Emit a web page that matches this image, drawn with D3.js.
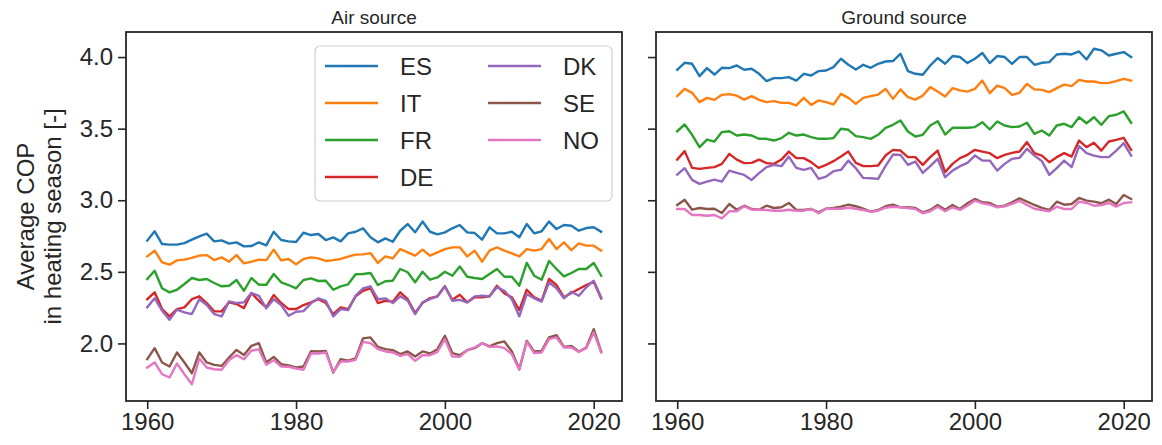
<!DOCTYPE html>
<html>
<head>
<meta charset="utf-8">
<script src="https://cdn.jsdelivr.net/npm/d3@7"></script>
<style>
  html, body { margin: 0; padding: 0; background: #fff; }
  svg { display: block; font-family: "Liberation Sans", Arial, sans-serif; }
</style>
</head>
<body>
<svg id="chart" width="1162" height="445"></svg>
<script>
// Years covered by every series
const years = d3.range(1960, 2022);

const countries = ["ES", "IT", "FR", "DE", "DK", "SE", "NO"];
const colors = ["#1f77b4", "#ff7f0e", "#2ca02c", "#d62728", "#9467bd", "#8c564b", "#e377c2"];

const yTicks = [2.0, 2.5, 3.0, 3.5, 4.0];
const xTicks = [1960, 1980, 2000, 2020];
const panelTitles = ["Air source", "Ground source"];

// Air source heat pumps: average COP in heating season
const airES = [2.718,2.783,2.694,2.690,2.690,2.701,2.725,2.748,2.767,2.713,
  2.720,2.697,2.706,2.678,2.680,2.706,2.685,2.780,2.722,2.713,
  2.708,2.773,2.757,2.764,2.722,2.741,2.713,2.769,2.780,2.804,
  2.741,2.706,2.734,2.710,2.787,2.834,2.776,2.851,2.780,2.762,
  2.776,2.804,2.827,2.776,2.771,2.725,2.811,2.769,2.769,2.780,
  2.741,2.834,2.769,2.783,2.851,2.799,2.827,2.822,2.787,2.806,
  2.811,2.780];
const airIT = [2.608,2.648,2.566,2.550,2.580,2.585,2.597,2.613,2.617,2.582,
  2.601,2.571,2.617,2.559,2.571,2.585,2.582,2.655,2.580,2.590,
  2.552,2.590,2.601,2.594,2.576,2.582,2.590,2.606,2.620,2.622,
  2.631,2.562,2.608,2.594,2.659,2.636,2.613,2.655,2.613,2.636,
  2.659,2.671,2.671,2.608,2.648,2.571,2.648,2.671,2.648,2.629,
  2.608,2.659,2.648,2.659,2.729,2.659,2.706,2.652,2.699,2.683,
  2.683,2.648];
const airFR = [2.450,2.508,2.385,2.357,2.375,2.415,2.457,2.443,2.450,2.422,
  2.399,2.403,2.443,2.368,2.457,2.410,2.410,2.485,2.427,2.408,
  2.385,2.443,2.454,2.436,2.438,2.375,2.399,2.413,2.483,2.485,
  2.492,2.408,2.434,2.438,2.520,2.497,2.427,2.501,2.445,2.461,
  2.501,2.473,2.538,2.466,2.457,2.450,2.485,2.520,2.466,2.466,
  2.403,2.562,2.473,2.445,2.576,2.520,2.468,2.492,2.520,2.520,
  2.562,2.473];
const airDE = [2.309,2.357,2.240,2.189,2.240,2.252,2.309,2.329,2.282,2.224,
  2.224,2.287,2.275,2.247,2.352,2.298,2.252,2.338,2.282,2.240,
  2.240,2.268,2.287,2.309,2.282,2.205,2.252,2.240,2.329,2.368,
  2.385,2.282,2.298,2.292,2.357,2.309,2.212,2.282,2.317,2.329,
  2.399,2.305,2.340,2.287,2.322,2.322,2.329,2.403,2.350,2.322,
  2.233,2.375,2.322,2.298,2.450,2.408,2.322,2.352,2.380,2.408,
  2.431,2.315];
const airDK = [2.252,2.315,2.229,2.165,2.236,2.217,2.205,2.309,2.268,2.205,
  2.189,2.294,2.282,2.287,2.352,2.333,2.245,2.309,2.268,2.193,
  2.221,2.226,2.280,2.315,2.298,2.189,2.240,2.233,2.333,2.385,
  2.399,2.309,2.315,2.282,2.329,2.298,2.205,2.287,2.309,2.329,
  2.399,2.298,2.305,2.287,2.329,2.333,2.329,2.392,2.368,2.309,
  2.189,2.345,2.315,2.292,2.427,2.385,2.315,2.361,2.333,2.392,
  2.438,2.322];
const airSE = [1.890,1.967,1.867,1.839,1.937,1.867,1.792,1.937,1.867,1.850,
  1.843,1.902,1.955,1.920,1.983,2.002,1.867,1.906,1.855,1.846,
  1.832,1.839,1.946,1.944,1.948,1.797,1.890,1.879,1.895,2.035,
  2.042,1.976,1.960,1.953,1.925,1.944,1.909,1.944,1.930,1.960,
  2.053,1.933,1.918,1.953,1.967,2.002,1.979,2.002,2.014,1.944,
  1.820,2.018,1.944,1.948,2.042,2.058,1.976,1.983,1.944,1.972,
  2.100,1.944];
const airNO = [1.832,1.867,1.785,1.762,1.860,1.785,1.715,1.895,1.832,1.820,
  1.816,1.885,1.918,1.890,1.949,1.960,1.851,1.883,1.839,1.837,
  1.825,1.816,1.930,1.930,1.937,1.802,1.874,1.874,1.885,2.011,
  2.002,1.960,1.944,1.937,1.913,1.925,1.878,1.918,1.918,1.941,
  2.030,1.909,1.906,1.953,1.972,2.002,1.976,1.979,1.967,1.925,
  1.816,2.011,1.933,1.937,2.030,2.042,1.972,1.972,1.941,1.967,
  2.077,1.937];

// Ground source heat pumps: average COP in heating season
const groundES = [3.911,3.960,3.953,3.867,3.923,3.878,3.925,3.923,3.941,3.911,
  3.918,3.883,3.832,3.853,3.853,3.860,3.836,3.883,3.871,3.902,
  3.906,3.930,3.988,3.946,3.913,3.946,3.925,3.953,3.969,3.972,
  4.023,3.902,3.883,3.876,3.941,3.993,3.953,4.007,4.000,3.958,
  3.988,4.028,3.958,4.007,4.000,3.953,4.000,4.000,3.946,3.960,
  3.965,4.018,4.023,4.018,4.039,3.983,4.058,4.047,4.011,4.023,
  4.035,4.000];
const groundIT = [3.727,3.778,3.750,3.685,3.715,3.701,3.736,3.741,3.731,3.703,
  3.727,3.701,3.685,3.692,3.680,3.680,3.662,3.715,3.666,3.697,
  3.685,3.669,3.743,3.715,3.673,3.715,3.727,3.738,3.778,3.708,
  3.774,3.720,3.703,3.731,3.790,3.759,3.724,3.783,3.767,3.759,
  3.778,3.836,3.748,3.801,3.783,3.736,3.750,3.813,3.774,3.771,
  3.755,3.783,3.808,3.797,3.841,3.829,3.829,3.818,3.820,3.832,
  3.848,3.836];
const groundFR = [3.482,3.529,3.457,3.371,3.424,3.410,3.476,3.482,3.452,3.459,
  3.452,3.429,3.429,3.417,3.434,3.471,3.452,3.459,3.441,3.429,
  3.429,3.434,3.499,3.492,3.448,3.441,3.429,3.457,3.506,3.527,
  3.557,3.480,3.445,3.457,3.522,3.552,3.459,3.506,3.506,3.506,
  3.511,3.545,3.494,3.550,3.522,3.511,3.515,3.541,3.464,3.487,
  3.452,3.522,3.534,3.511,3.580,3.538,3.580,3.527,3.587,3.597,
  3.620,3.541];
const groundDE = [3.284,3.343,3.226,3.219,3.226,3.231,3.254,3.324,3.284,3.259,
  3.261,3.284,3.259,3.254,3.284,3.340,3.294,3.294,3.266,3.226,
  3.247,3.273,3.305,3.340,3.261,3.238,3.238,3.243,3.312,3.352,
  3.347,3.301,3.301,3.247,3.301,3.347,3.196,3.254,3.294,3.317,
  3.352,3.340,3.329,3.294,3.317,3.331,3.340,3.406,3.329,3.312,
  3.266,3.301,3.329,3.305,3.417,3.371,3.401,3.347,3.410,3.422,
  3.436,3.352];
const groundDK = [3.179,3.224,3.142,3.114,3.130,3.144,3.130,3.207,3.191,3.177,
  3.142,3.189,3.231,3.247,3.238,3.305,3.226,3.212,3.226,3.149,
  3.165,3.203,3.212,3.277,3.224,3.156,3.154,3.149,3.240,3.319,
  3.317,3.247,3.270,3.191,3.238,3.289,3.161,3.207,3.238,3.261,
  3.312,3.277,3.277,3.207,3.254,3.289,3.296,3.359,3.312,3.273,
  3.177,3.224,3.277,3.231,3.378,3.329,3.312,3.301,3.301,3.347,
  3.399,3.312];
const groundSE = [2.967,3.004,2.934,2.946,2.939,2.941,2.911,2.974,2.934,2.962,
  2.939,2.934,2.962,2.946,2.951,2.981,2.932,2.932,2.939,2.916,
  2.941,2.946,2.955,2.969,2.958,2.941,2.920,2.932,2.958,2.969,
  2.951,2.951,2.946,2.916,2.932,2.967,2.934,2.967,2.939,2.979,
  3.009,2.986,2.981,2.955,2.962,2.986,3.014,2.990,2.967,2.946,
  2.932,2.990,2.969,2.974,3.016,2.997,2.990,2.979,3.004,2.974,
  3.037,3.009];
const groundNO = [2.939,2.939,2.897,2.897,2.892,2.897,2.874,2.923,2.923,2.958,
  2.934,2.934,2.932,2.927,2.927,2.934,2.927,2.927,2.939,2.909,
  2.941,2.941,2.941,2.948,2.941,2.932,2.920,2.927,2.948,2.955,
  2.951,2.946,2.939,2.909,2.923,2.955,2.923,2.951,2.932,2.962,
  2.997,2.979,2.969,2.951,2.958,2.974,2.997,2.967,2.941,2.932,
  2.923,2.955,2.939,2.939,2.990,2.981,2.962,2.967,2.981,2.955,
  2.981,2.986];

const panels = [
  { title: panelTitles[0], series: [airES, airIT, airFR, airDE, airDK, airSE, airNO] },
  { title: panelTitles[1], series: [groundES, groundIT, groundFR, groundDE, groundDK, groundSE, groundNO] }
];

// ---- layout ----
const ink = "#262626";
const plotTop = 32, plotBottom = 401;
const panelX = [[126, 622], [656, 1152]];

const y = d3.scaleLinear().domain([1.598, 4.175]).range([plotBottom, plotTop]);

const svg = d3.select("#chart");

panels.forEach((p, i) => {
  const [x0, x1] = panelX[i];
  const x = d3.scaleLinear().domain([1957.15, 2023.8]).range([x0, x1]);
  const g = svg.append("g");

  // lines
  const line = d3.line().x((d, k) => x(years[k])).y(d => y(d));
  p.series.forEach((vals, s) => {
    g.append("path")
      .datum(vals)
      .attr("d", line)
      .attr("fill", "none")
      .attr("stroke", colors[s])
      .attr("stroke-width", 2.4)
      .attr("stroke-linejoin", "round")
      .attr("stroke-linecap", "square");
  });

  // x axis
  const xAxis = d3.axisBottom(x).tickValues(xTicks).tickFormat(d3.format("d"))
    .tickSize(8).tickPadding(4);
  const gx = g.append("g").attr("transform", `translate(0,${plotBottom})`).call(xAxis);
  gx.select(".domain").remove();
  gx.selectAll(".tick line").attr("stroke", ink).attr("stroke-width", 1.6);
  gx.selectAll(".tick text").attr("fill", ink).style("font-size", "24px")
    .style("font-family", "'Liberation Sans', Arial, sans-serif");

  // y axis
  const yAxis = d3.axisLeft(y).tickValues(yTicks).tickSize(8).tickPadding(5)
    .tickFormat(i === 0 ? d3.format(".1f") : () => "");
  const gy = g.append("g").attr("transform", `translate(${x0},0)`).call(yAxis);
  gy.select(".domain").remove();
  gy.selectAll(".tick line").attr("stroke", ink).attr("stroke-width", 1.6);
  gy.selectAll(".tick text").attr("fill", ink).style("font-size", "24px")
    .style("font-family", "'Liberation Sans', Arial, sans-serif");

  // frame
  g.append("rect")
    .attr("x", x0).attr("y", plotTop)
    .attr("width", x1 - x0).attr("height", plotBottom - plotTop)
    .attr("fill", "none").attr("stroke", ink).attr("stroke-width", 1.8);

  // title
  g.append("text")
    .attr("x", (x0 + x1) / 2).attr("y", 24)
    .attr("text-anchor", "middle")
    .attr("fill", ink)
    .style("font-size", "19px")
    .text(p.title);
});

// y-axis label (two lines)
const yl = svg.append("text")
  .attr("transform", `translate(0,${(plotTop + plotBottom) / 2}) rotate(-90)`)
  .attr("text-anchor", "middle")
  .attr("fill", ink)
  .style("font-size", "24px");
yl.append("tspan").attr("x", 0).attr("y", 34).text("Average COP");
yl.append("tspan").attr("x", 0).attr("y", 61).text("in heating season [-]");

// legend (two columns) in the air source panel
const legend = svg.append("g");
legend.append("rect")
  .attr("x", 315).attr("y", 46).attr("width", 297).attr("height", 155)
  .attr("rx", 5).attr("ry", 5)
  .attr("fill", "rgba(255,255,255,0.8)")
  .attr("stroke", "#d0d0d0").attr("stroke-width", 1.2);

countries.forEach((c, s) => {
  const col = s < 4 ? 0 : 1;
  const row = s < 4 ? s : s - 4;
  const lx = col === 0 ? 325 : 488;
  const ly = 66 + row * 37;
  legend.append("line")
    .attr("x1", lx).attr("x2", lx + 53)
    .attr("y1", ly).attr("y2", ly)
    .attr("stroke", colors[s]).attr("stroke-width", 2.4);
  legend.append("text")
    .attr("x", lx + 75).attr("y", ly + 9)
    .attr("fill", ink)
    .style("font-size", "24px")
    .text(c);
});
</script>
</body>
</html>
